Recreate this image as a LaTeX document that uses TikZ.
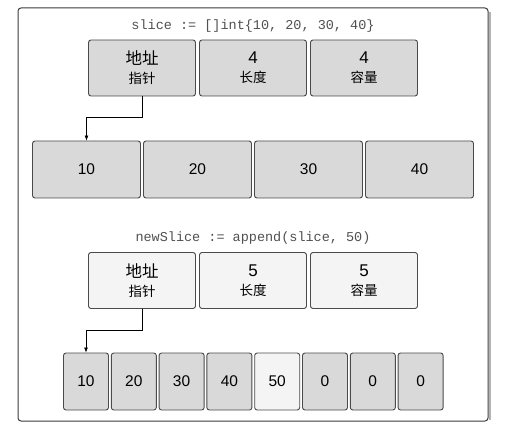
\documentclass[tikz,border=0pt]{standalone}
\usepackage{fontspec}
\setmainfont{Liberation Sans}
\setmonofont{Liberation Mono}
\newfontfamily\cjk{Noto Sans CJK SC}
\usetikzlibrary{arrows.meta}
\definecolor{cellgray}{HTML}{D9D9D9}
\definecolor{celllight}{HTML}{F4F4F4}
\definecolor{edge}{HTML}{4A4A4A}
\definecolor{codegray}{HTML}{505050}
\tikzset{
  cellbox/.style={draw=edge, line width=0.9pt, rounded corners=2.5pt, inner sep=0pt, align=center},
  hdr/.style={cellbox, minimum width=107pt, minimum height=56pt, font=\fontsize{13}{19}\selectfont},
  bigcell/.style={cellbox, fill=cellgray, minimum width=108pt, minimum height=57pt, font=\fontsize{15.5}{18}\selectfont},
  smallcell/.style={cellbox, fill=cellgray, minimum width=45pt, minimum height=57pt, font=\fontsize{15.5}{18}\selectfont},
  codetext/.style={font=\ttfamily\fontsize{13.5}{16}\selectfont, text=codegray, inner sep=0pt},
  ptr/.style={draw=black, line width=0.7pt, -{Latex[length=5pt,width=4pt]}}
}
\newcommand{\hdrtext}[2]{{\fontsize{16.5}{19}\selectfont\cjk #1}\\{\fontsize{13.5}{19}\selectfont\cjk #2}}
\newcommand{\numtext}[2]{{\fontsize{17}{19}\selectfont #1}\\{\fontsize{13.5}{19}\selectfont\cjk #2}}
\begin{document}
\begin{tikzpicture}[x=1pt,y=-1pt]
\useasboundingbox (0,0) rectangle (506,430);
\draw[draw=edge!80!black, line width=1pt, rounded corners=3pt] (18,8) rectangle (488,421);
\draw[draw=gray!60, line width=1.2pt] (490,12) -- (490,420);
% top part
\node[codetext] (t1) at (253,26) {slice := []int\{10, 20, 30, 40\}};
\node[hdr, fill=cellgray] (h1) at (142,68) {\hdrtext{地址}{指针}};
\node[hdr, fill=cellgray] (h2) at (253,68) {\numtext{4}{长度}};
\node[hdr, fill=cellgray] (h3) at (364,68) {\numtext{4}{容量}};
\node[bigcell] (a1) at (86.5,169.5) {10};
\node[bigcell] (a2) at (197.5,169.5) {20};
\node[bigcell] (a3) at (308.5,169.5) {30};
\node[bigcell] (a4) at (419.5,169.5) {40};
\draw[ptr] (h1.south) -- ++(0,21) -| (a1.north);
% bottom part
\node[codetext] (t2) at (253,238) {newSlice := append(slice, 50)};
\node[hdr, fill=celllight] (g1) at (142,280.5) {\hdrtext{地址}{指针}};
\node[hdr, fill=celllight] (g2) at (253,280.5) {\numtext{5}{长度}};
\node[hdr, fill=celllight] (g3) at (364,280.5) {\numtext{5}{容量}};
\node[smallcell] (b1) at (86,381.5) {10};
\node[smallcell] (b2) at (133.8,381.5) {20};
\node[smallcell] (b3) at (181.6,381.5) {30};
\node[smallcell] (b4) at (229.4,381.5) {40};
\node[smallcell, fill=celllight] (b5) at (277.2,381.5) {50};
\node[smallcell] (b6) at (325,381.5) {0};
\node[smallcell] (b7) at (372.8,381.5) {0};
\node[smallcell] (b8) at (420.6,381.5) {0};
\draw[ptr] (g1.south) -- ++(0,21) -| (b1.north);
\end{tikzpicture}
\end{document}
